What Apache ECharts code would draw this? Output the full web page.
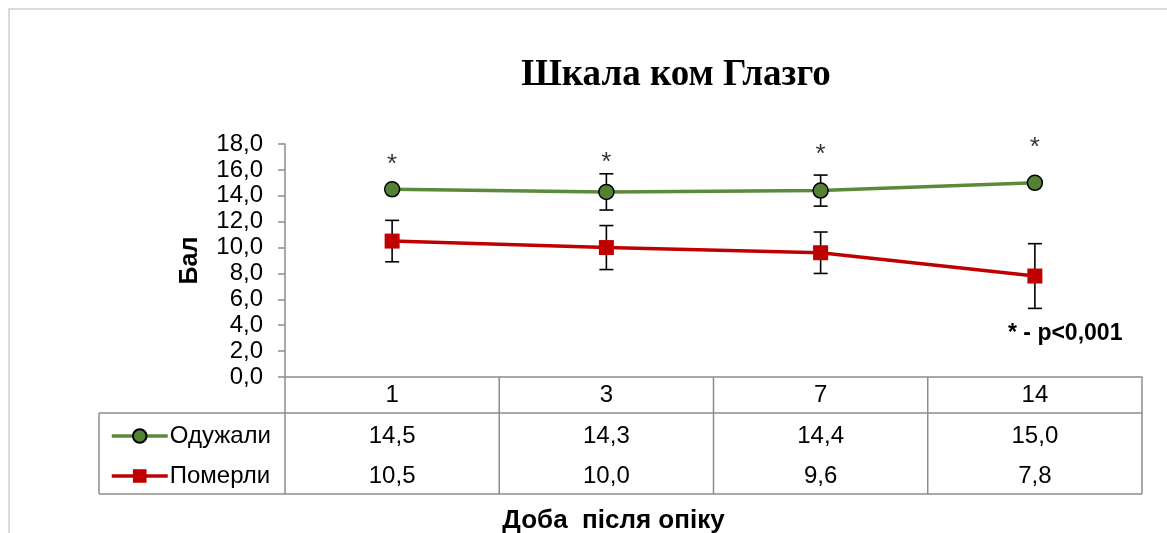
<!DOCTYPE html>
<html>
<head>
<meta charset="utf-8">
<script src="https://cdn.jsdelivr.net/npm/echarts@6/dist/echarts.min.js"></script>
<style>
  html, body { margin: 0; padding: 0; background: #fff; }
  #chart { width: 1167px; height: 533px; }
</style>
</head>
<body>
<div id="chart"></div>
<script>
  // дані
  var days = ['1', '3', '7', '14']
  var recovered = [14.5, 14.3, 14.4, 15.0]
  var died = [10.5, 10.0, 9.6, 7.8]
  var recoveredErr = [0, 1.4, 1.2, 0]
  var diedErr = [1.6, 1.7, 1.6, 2.5]
  var starLevel = [16.6, 16.8, 17.4, 17.9]
  var yTicks = { min: 0, max: 18, step: 2 }

  var fmt = function (v) { return Number(v).toFixed(1).replace('.', ',') }
  var numFont = 'Liberation Sans, Arial, sans-serif'
  var fs = 24

  var chart = echarts.init(document.getElementById('chart'), null, { renderer: 'canvas' })

  function errData(vals, errs) {
    var out = []
    for (var i = 0; i < vals.length; i++) {
      if (errs[i] > 0) out.push([i, vals[i] - errs[i], vals[i] + errs[i]])
    }
    return out
  }

  function renderErr(params, api) {
    var i = api.value(0)
    var lo = api.coord([i, api.value(1)])
    var hi = api.coord([i, api.value(2)])
    var cap = 7
    var st = { stroke: '#000', lineWidth: 1.6 }
    return {
      type: 'group',
      children: [
        { type: 'line', shape: { x1: lo[0], y1: lo[1], x2: hi[0], y2: hi[1] }, style: st },
        { type: 'line', shape: { x1: lo[0] - cap, y1: lo[1], x2: lo[0] + cap, y2: lo[1] }, style: st },
        { type: 'line', shape: { x1: hi[0] - cap, y1: hi[1], x2: hi[0] + cap, y2: hi[1] }, style: st }
      ]
    }
  }

  var tableAxis = function (vals, offset) {
    return {
      type: 'category',
      position: 'bottom',
      data: vals.map(fmt),
      offset: offset,
      axisLine: { show: false },
      axisTick: { show: false },
      axisLabel: { margin: 7, fontSize: fs, color: '#000', fontFamily: numFont }
    }
  }

  chart.setOption({
    animation: false,
    title: {
      text: 'Шкала ком Глазго',
      left: 671, top: 52, textAlign: 'center',
      textStyle: { fontFamily: 'Liberation Serif, Times New Roman, serif', fontSize: 37, fontWeight: 'bold', color: '#000' }
    },
    grid: { left: 285, right: 25, top: 144, bottom: 156, containLabel: false, outerBoundsMode: 'none' },
    legend: {
      orient: 'vertical',
      left: 105, top: 419,
      itemWidth: 56, itemHeight: 17, itemGap: 16,
      lineStyle: { width: 3.5 },
      textStyle: { fontSize: fs, color: '#000', fontFamily: numFont, padding: [0, 0, 0, -3] },
      data: ['Одужали', 'Померли']
    },
    xAxis: [
      {
        type: 'category',
        data: days,
        name: 'Доба  після опіку',
        nameLocation: 'middle',
        nameGap: 131,
        nameTextStyle: { fontSize: 26, fontWeight: 'bold', color: '#000', fontFamily: numFont, padding: [0, 0, 0, -200] },
        axisLine: { show: true, lineStyle: { color: '#8c8c8c', width: 1.5 } },
        axisTick: { show: false },
        axisLabel: { margin: 6, fontSize: fs, color: '#000', fontFamily: numFont }
      },
      tableAxis(recovered, 40),
      tableAxis(died, 80)
    ],
    yAxis: {
      type: 'value',
      min: yTicks.min, max: yTicks.max, interval: yTicks.step,
      name: 'Бал',
      nameLocation: 'middle',
      nameGap: 82,
      nameRotate: 90,
      nameTextStyle: { fontSize: 25, fontWeight: 'bold', color: '#000', fontFamily: numFont },
      axisLine: { show: true, lineStyle: { color: '#8c8c8c', width: 1.5 } },
      axisTick: { show: true, inside: false, length: 7, lineStyle: { color: '#8c8c8c', width: 1.5 } },
      splitLine: { show: false },
      axisLabel: { margin: 22, fontSize: fs, color: '#000', fontFamily: numFont, formatter: fmt }
    },
    series: [
      {
        name: 'Одужали', type: 'line', data: recovered,
        symbol: 'circle', symbolSize: 15,
        lineStyle: { color: '#5b8a3a', width: 3.5 },
        itemStyle: { color: '#548235', borderColor: '#000', borderWidth: 1.5 },
        z: 3
      },
      {
        name: 'Померли', type: 'line', data: died,
        symbol: 'rect', symbolSize: 15,
        lineStyle: { color: '#c00000', width: 3.5 },
        itemStyle: { color: '#c00000' },
        z: 3
      },
      { type: 'custom', renderItem: renderErr, data: errData(recovered, recoveredErr), z: 2, silent: true },
      { type: 'custom', renderItem: renderErr, data: errData(died, diedErr), z: 2, silent: true },
      {
        type: 'scatter', data: starLevel, symbolSize: 1,
        itemStyle: { color: 'rgba(0,0,0,0)' }, silent: true,
        label: { show: true, position: 'inside', formatter: '*', fontSize: 26, color: '#000', fontFamily: numFont, offset: [0, 3] }
      }
    ]
  })

  // таблиця даних під віссю
  function drawTable() {
    var xs = days.map(function (d, i) { return chart.convertToPixel({ xAxisIndex: 0 }, i) })
    var bw = xs[1] - xs[0]
    var x0 = xs[0] - bw / 2
    var x1 = xs[xs.length - 1] + bw / 2
    var y0 = chart.convertToPixel({ yAxisIndex: 0 }, 0)
    var yHead = y0 + 36
    var yEnd = y0 + 117
    var legLeft = 99
    var st = { stroke: '#8c8c8c', lineWidth: 1.5 }
    var g = []
    g.push({ type: 'rect', shape: { x: 9, y: 9, width: 1300, height: 700 }, style: { fill: null, stroke: '#d0d0d0', lineWidth: 1.5 }, silent: true, z: -1 })
    for (var i = 0; i <= days.length; i++) {
      var x = x0 + bw * i
      g.push({ type: 'line', shape: { x1: x, y1: y0, x2: x, y2: yEnd }, style: st })
    }
    g.push({ type: 'line', shape: { x1: legLeft, y1: yHead, x2: x1, y2: yHead }, style: st })
    g.push({ type: 'line', shape: { x1: legLeft, y1: yEnd, x2: x1, y2: yEnd }, style: st })
    g.push({ type: 'line', shape: { x1: legLeft, y1: yHead, x2: legLeft, y2: yEnd }, style: st })
    g.push({
      type: 'text', left: 1008, top: 322,
      style: { text: '* - p<0,001', fontSize: 23, fontWeight: 'bold', fill: '#000', fontFamily: numFont }
    })
    chart.setOption({ graphic: g })
  }
  drawTable()
</script>
</body>
</html>
